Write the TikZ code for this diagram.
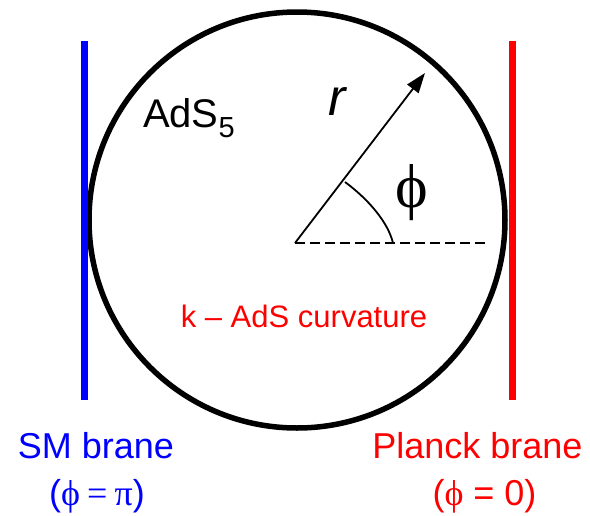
\documentclass[tikz,border=0pt]{standalone}
\usepackage{fontspec}
\setmainfont{Liberation Sans}
\newfontfamily\grk{Liberation Serif}
\usetikzlibrary{arrows.meta}
\tikzset{
  lbl/.style={inner sep=0pt, outer sep=0pt},
  brane/.style={line width=7pt},
  thin/.style={line width=1.8pt},
}
\begin{document}
\begin{tikzpicture}[x=1pt,y=-1pt]
\useasboundingbox (0,0) rectangle (590,515);
% circle
\draw[line width=5.5pt] (297,220) circle[radius=208];
% branes
\coordinate (bt) at (84.5,41);
\coordinate (bb) at (84.5,400);
\coordinate (rt) at (512,41);
\coordinate (rb) at (512,400);
\draw[brane, blue] (bt) -- (bb);
\draw[brane, red] (rt) -- (rb);
% radius and angle
\coordinate (O) at (295,243);
\coordinate (tip) at (425,73);
\coordinate (dend) at (487,243);
\coordinate (a1) at (345,182);
\coordinate (a2) at (393,243);
\draw[thin, dash pattern=on 10pt off 5pt] (O) -- (dend);
\draw[thin, -{Triangle[length=20pt,width=14pt]}] (O) -- (tip);
\draw[thin] (a1) .. controls (368,199) and (388,222) .. (a2);
% labels
\node[lbl, anchor=base] (r) at (337,115) {\fontsize{52}{52}\selectfont\itshape r};
\node[lbl] (phi) at (412,193) {\fontsize{62}{62}\selectfont\grk ϕ};
\node[lbl, anchor=base west] (ads) at (143,127) {\fontsize{40}{40}\selectfont AdS\raisebox{-10pt}{\fontsize{29}{29}\selectfont 5}};
\node[lbl, anchor=base, red] (k) at (304,327) {\fontsize{31}{31}\selectfont k – AdS curvature};
\node[lbl, anchor=base, blue] (sm) at (96,458) {\fontsize{36}{36}\selectfont SM brane};
\node[lbl, anchor=base, blue] (smphi) at (97,505) {\fontsize{36}{36}\selectfont ({\grk ϕ\hspace{0.2em}=\hspace{0.2em}π})};
\node[lbl, anchor=base, red] (pl) at (477.5,458) {\fontsize{36}{36}\selectfont Planck brane};
\node[lbl, anchor=base, red] (plphi) at (484.5,505) {\fontsize{36}{36}\selectfont ({\grk ϕ} = 0)};
\end{tikzpicture}
\end{document}
